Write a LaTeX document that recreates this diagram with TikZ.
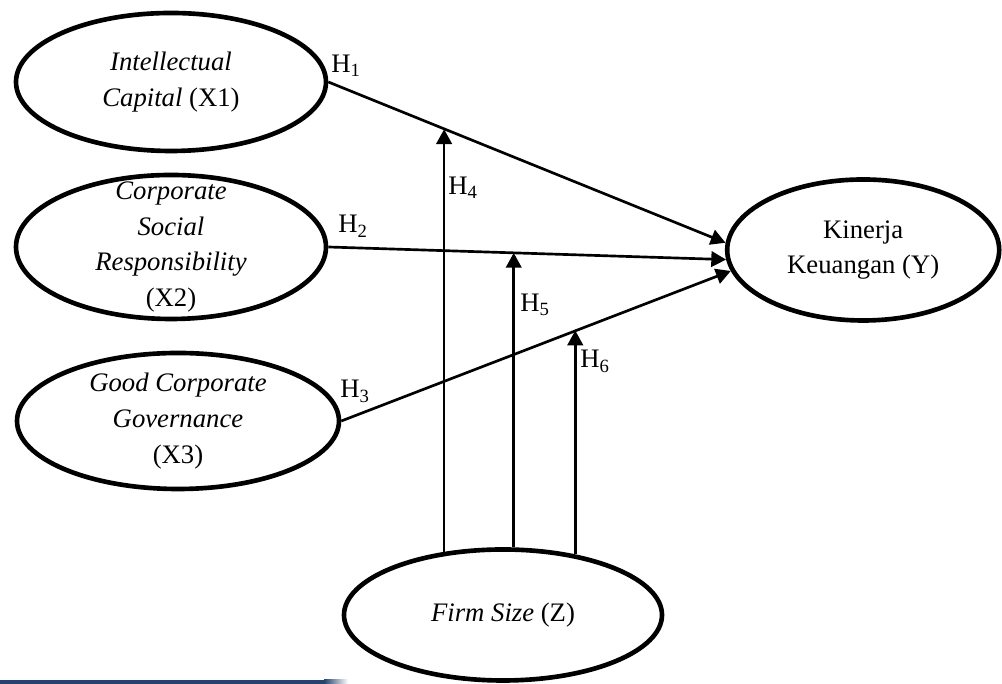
\documentclass[tikz,border=0pt]{standalone}
\usepackage{fontspec}
\setmainfont{Liberation Serif}
\usetikzlibrary{shapes.geometric, arrows.meta, positioning}
\definecolor{barblue}{RGB}{38, 66, 110}

\begin{document}
\begin{tikzpicture}[
  font=\fontsize{19}{25.5}\selectfont,
  construct/.style={
    draw=black,
    line width=3.3pt,
    ellipse,
    align=center,
    inner sep=-20pt,
  },
  link/.style={
    line width=1.9pt,
    -{Triangle[length=10.5pt, width=11pt]},
  },
  hyp/.style={
    inner sep=0pt,
    anchor=base west,
  }
]
  \useasboundingbox (0, 0) rectangle (25.05, 17.1);

  % Variables
  \node[construct, minimum width=7.75cm, minimum height=3.45cm] (x1) at (4.275, 15.05) {\textit{Intellectual}\\\textit{Capital} (X1)};
  \node[construct, minimum width=7.75cm, minimum height=3.6cm] (x2) at (4.275, 10.925) {\textit{Corporate}\\\textit{Social}\\\textit{Responsibility}\\(X2)};
  \node[construct, minimum width=8.05cm, minimum height=3.4cm] (x3) at (4.45, 6.575) {\textit{Good Corporate}\\\textit{Governance}\\(X3)};
  \node[construct, minimum width=6.8cm, minimum height=3.525cm] (y) at (21.58, 10.85) {Kinerja\\Keuangan (Y)};
  \node[construct, minimum width=7.95cm, minimum height=3.275cm] (fz) at (12.575, 1.725) {\textit{Firm Size} (Z)};

  % Direct paths
  \draw[link] (x1.east) -- coordinate[pos=0.294] (m4) (y.177);
  \draw[link] (x2.east) -- coordinate[pos=0.4705] (m5) (y.184);
  \draw[link] (x3.east) -- coordinate[pos=0.603] (m6) (y.189);

  % Moderation
  \draw[link] (fz.133) -- (fz.133 |- m4);
  \draw[link] (fz.81) -- (fz.81 |- m5);
  \draw[link] (fz.40) -- (fz.40 |- m6);

  % Hypotheses
  \node[hyp] (h1) at (8.275, 15.275) {H\textsubscript{1}};
  \node[hyp] (h2) at (8.45, 11.275) {H\textsubscript{2}};
  \node[hyp] (h3) at (8.5, 7.15) {H\textsubscript{3}};
  \node[hyp] (h4) at (11.2, 12.225) {H\textsubscript{4}};
  \node[hyp] (h5) at (13.0, 9.3) {H\textsubscript{5}};
  \node[hyp] (h6) at (14.5, 7.9) {H\textsubscript{6}};

  % bottom strip
  \fill[barblue] (0, 0) rectangle (8.1, 0.1);
  \shade[left color=barblue, right color=white] (8.1, 0) rectangle (8.7, 0.1);
\end{tikzpicture}
\end{document}
